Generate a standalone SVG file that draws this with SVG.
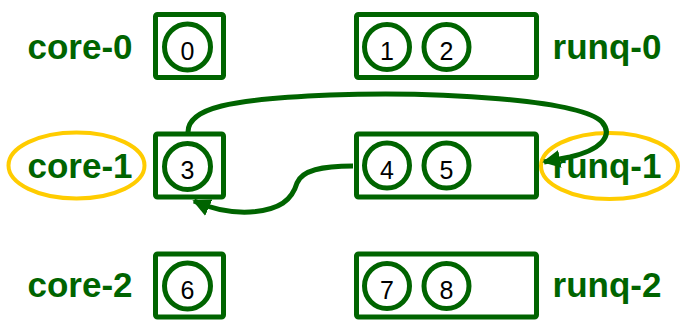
<svg xmlns="http://www.w3.org/2000/svg" width="693" height="330" viewBox="0 0 693 330">
<defs>
<style>
.box{fill:#fff;stroke:#006400;stroke-width:5;stroke-linejoin:round}
.task{fill:#fff;stroke:#006400;stroke-width:5}
.num{font-family:"Liberation Sans",Arial,sans-serif;font-size:25px;fill:#000;text-anchor:middle}
.lbl{font-family:"Liberation Sans",Arial,sans-serif;font-size:35px;font-weight:bold;fill:#006400;text-anchor:middle}
.hl{fill:none;stroke:#ffcc00;stroke-width:4}
.edge{fill:none;stroke:#006400;stroke-width:5}
</style>
<marker id="ah" viewBox="0 0 10 10" refX="9" refY="5" markerWidth="3.6" markerHeight="3.6" orient="auto" markerUnits="strokeWidth">
<path d="M0,0 L10,5 L0,10 z" fill="#006400"/>
</marker>
</defs>
<rect width="693" height="330" fill="#fff"/>
<g id="core-0">
<text class="lbl" x="80" y="59">core-0</text>
<rect class="box" x="155.5" y="14.5" width="68" height="63" rx="2"/>
<circle class="task" cx="187.5" cy="47" r="23"/>
<text class="num" x="187.5" y="60">0</text>
</g>
<g id="runq-0">
<rect class="box" x="356.5" y="14.5" width="180" height="63" rx="2"/>
<circle class="task" cx="387" cy="47" r="22.5"/>
<text class="num" x="387" y="60">1</text>
<circle class="task" cx="446.5" cy="47" r="22.5"/>
<text class="num" x="446.5" y="60">2</text>
<text class="lbl" x="607" y="59">runq-0</text>
</g>
<g id="core-1">
<ellipse class="hl" cx="76.5" cy="165.5" rx="68" ry="33"/>
<text class="lbl" x="80" y="178">core-1</text>
<rect class="box" x="155.5" y="134" width="68" height="63" rx="2"/>
<circle class="task" cx="187.5" cy="166.5" r="23"/>
<text class="num" x="187.5" y="179">3</text>
</g>
<g id="runq-1">
<rect class="box" x="356.5" y="134" width="180" height="63" rx="2"/>
<circle class="task" cx="387" cy="165.5" r="22.5"/>
<text class="num" x="387" y="178.5">4</text>
<circle class="task" cx="446.5" cy="165.5" r="22.5"/>
<text class="num" x="446.5" y="178.5">5</text>
<ellipse class="hl" cx="609.5" cy="166" rx="68.5" ry="33"/>
<text class="lbl" x="607" y="178">runq-1</text>
</g>
<g id="core-2">
<text class="lbl" x="80" y="297">core-2</text>
<rect class="box" x="155.5" y="254" width="68" height="63" rx="2"/>
<circle class="task" cx="187.5" cy="286" r="23"/>
<text class="num" x="187.5" y="299">6</text>
</g>
<g id="runq-2">
<rect class="box" x="356.5" y="254" width="180" height="63" rx="2"/>
<circle class="task" cx="387" cy="286" r="22.5"/>
<text class="num" x="387" y="299">7</text>
<circle class="task" cx="446.5" cy="286" r="22.5"/>
<text class="num" x="446.5" y="299">8</text>
<text class="lbl" x="607" y="297">runq-2</text>
</g>
<g id="connectors">
<path class="edge" marker-end="url(#ah)" d="M188,132 C188,108 230,99 330,95 C440,91 580,100 602,122 C614,136 600,150 570,157 L544,162"/>
<path class="edge" marker-end="url(#ah)" d="M353,166 C322,166 302,170 297,183 C292,200 280,210 250,212 C230,213 212,209 194,201"/>
</g>
</svg>
